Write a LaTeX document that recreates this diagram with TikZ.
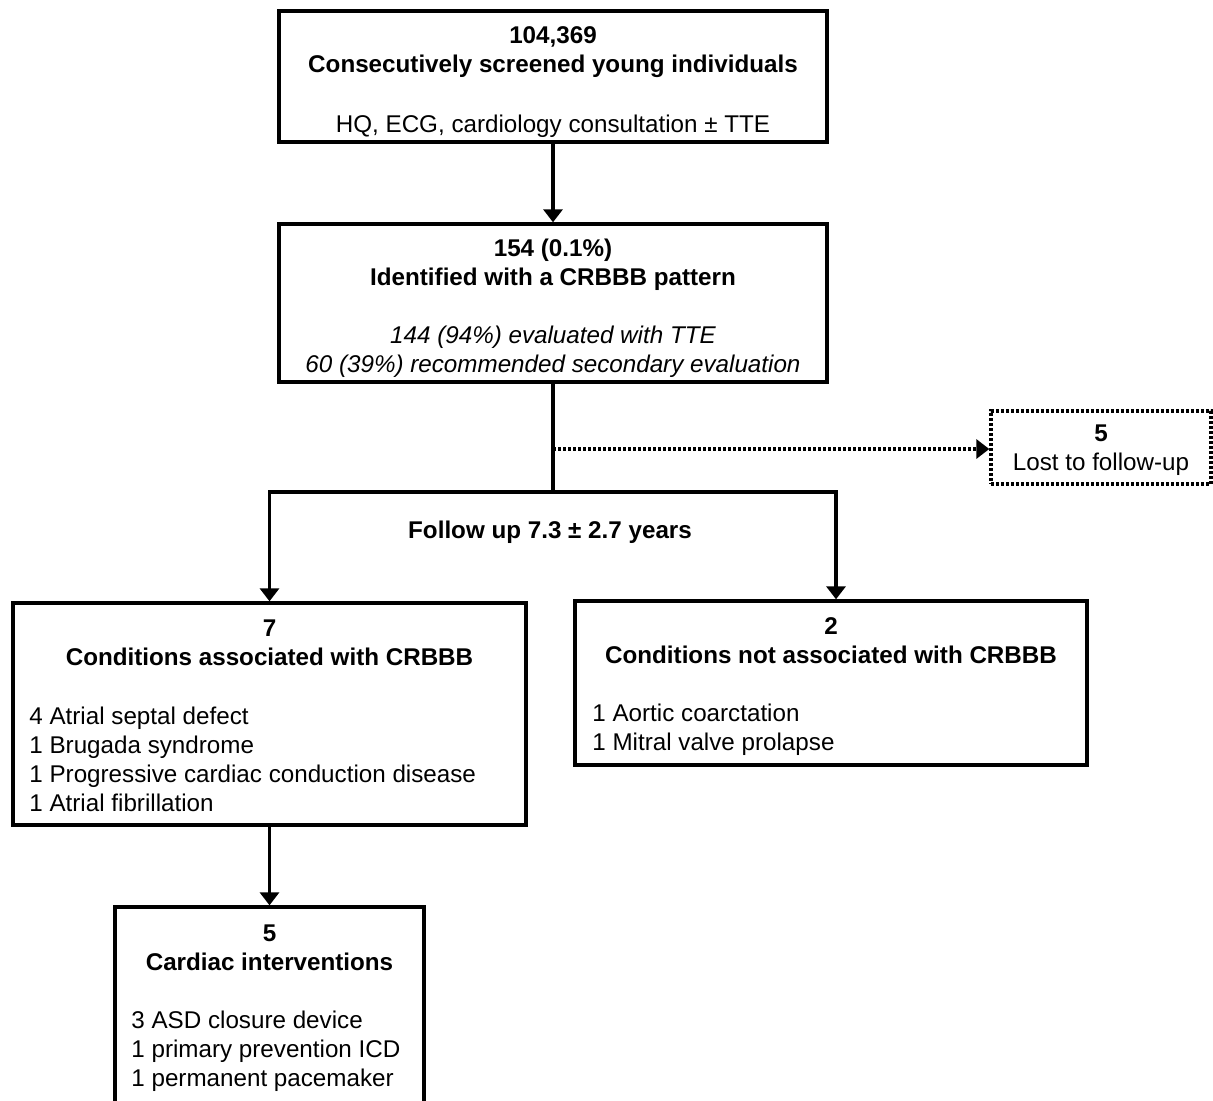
\documentclass[tikz,border=0pt]{standalone}
\usepackage{fontspec}
\setmainfont{Liberation Sans}
\usetikzlibrary{arrows.meta,positioning,calc}

\def\fs{\fontsize{12.1}{14.5}\selectfont}

\begin{document}
\begin{tikzpicture}[x=0.5pt,y=-0.5pt,
  box/.style={draw,line width=1.7pt,inner sep=0pt},
  dotbox/.style={box,dash pattern=on 1.5pt off 1pt},
  flow/.style={line width=1.7pt,-{Triangle[length=6.5pt,width=9.5pt]}},
  head/.style={font=\fs\bfseries,align=center,inner sep=0pt,anchor=base},
  plain/.style={font=\fs,align=center,inner sep=0pt,anchor=base},
  items/.style={font=\fs,align=left,inner sep=0pt,anchor=base west}]
  \clip (0,0) rectangle (1213,1100);

  % Cajas
  \node[box,minimum width=274pt,minimum height=65.5pt] (screen) at (553,76.5) {};
  \node[box,minimum width=274pt,minimum height=79pt] (crbbb) at (553,303) {};
  \node[dotbox,minimum width=110pt,minimum height=36.5pt] (lost) at (1101,447.5) {};
  \node[box,minimum width=256.5pt,minimum height=111pt] (assoc) at (269.5,714) {};
  \node[box,minimum width=256pt,minimum height=82pt] (nonassoc) at (831,683) {};
  \node[box,minimum width=154.5pt,minimum height=105pt] (interv) at (269.5,1012) {};

  % Textos (base = ultima linea)
  \node[head] (screen-t) at (553,72) {104,369\\Consecutively screened young individuals};
  \node[plain] (screen-s) at (553,132) {HQ, ECG, cardiology consultation ± TTE};
  \node[head] (crbbb-t) at (553,285) {154 (0.1\%)\\Identified with a CRBBB pattern};
  \node[plain,font=\fs\itshape] (crbbb-s) at (553,372) {144 (94\%) evaluated with TTE\\60 (39\%) recommended secondary evaluation};
  \node[plain] (lost-t) at (1101,470) {\textbf{5}\\Lost to follow-up};
  \node[head] (fu-t) at (550,538) {Follow up 7.3 ± 2.7 years};
  \node[head] (assoc-t) at (269.5,665) {7\\Conditions associated with CRBBB};
  \node[items] (assoc-l) at (29,811) {4 Atrial septal defect\\1 Brugada syndrome\\1 Progressive cardiac conduction disease\\1 Atrial fibrillation};
  \node[head] (nonassoc-t) at (831,663) {2\\Conditions not associated with CRBBB};
  \node[items] (nonassoc-l) at (592,750) {1 Aortic coarctation\\1 Mitral valve prolapse};
  \node[head] (interv-t) at (269.5,970) {5\\Cardiac interventions};
  \node[items] (interv-l) at (131,1086) {3 ASD closure device\\1 primary prevention ICD\\1 permanent pacemaker};

  % Flechas
  \coordinate (split) at (553,492);
  \coordinate (lossp) at (553,449);
  \draw[flow] (screen) -- (crbbb);
  \draw[line width=1.7pt] (crbbb) -- (split);
  \draw[flow,dash pattern=on 1.5pt off 1pt] (lossp) -- (lossp -| lost.west);
  \draw[flow] (split) -| (assoc);
  \draw[flow] (split) -| ([xshift=2.5pt]nonassoc.north);
  \draw[flow] (assoc) -- (interv);
\end{tikzpicture}
\end{document}
